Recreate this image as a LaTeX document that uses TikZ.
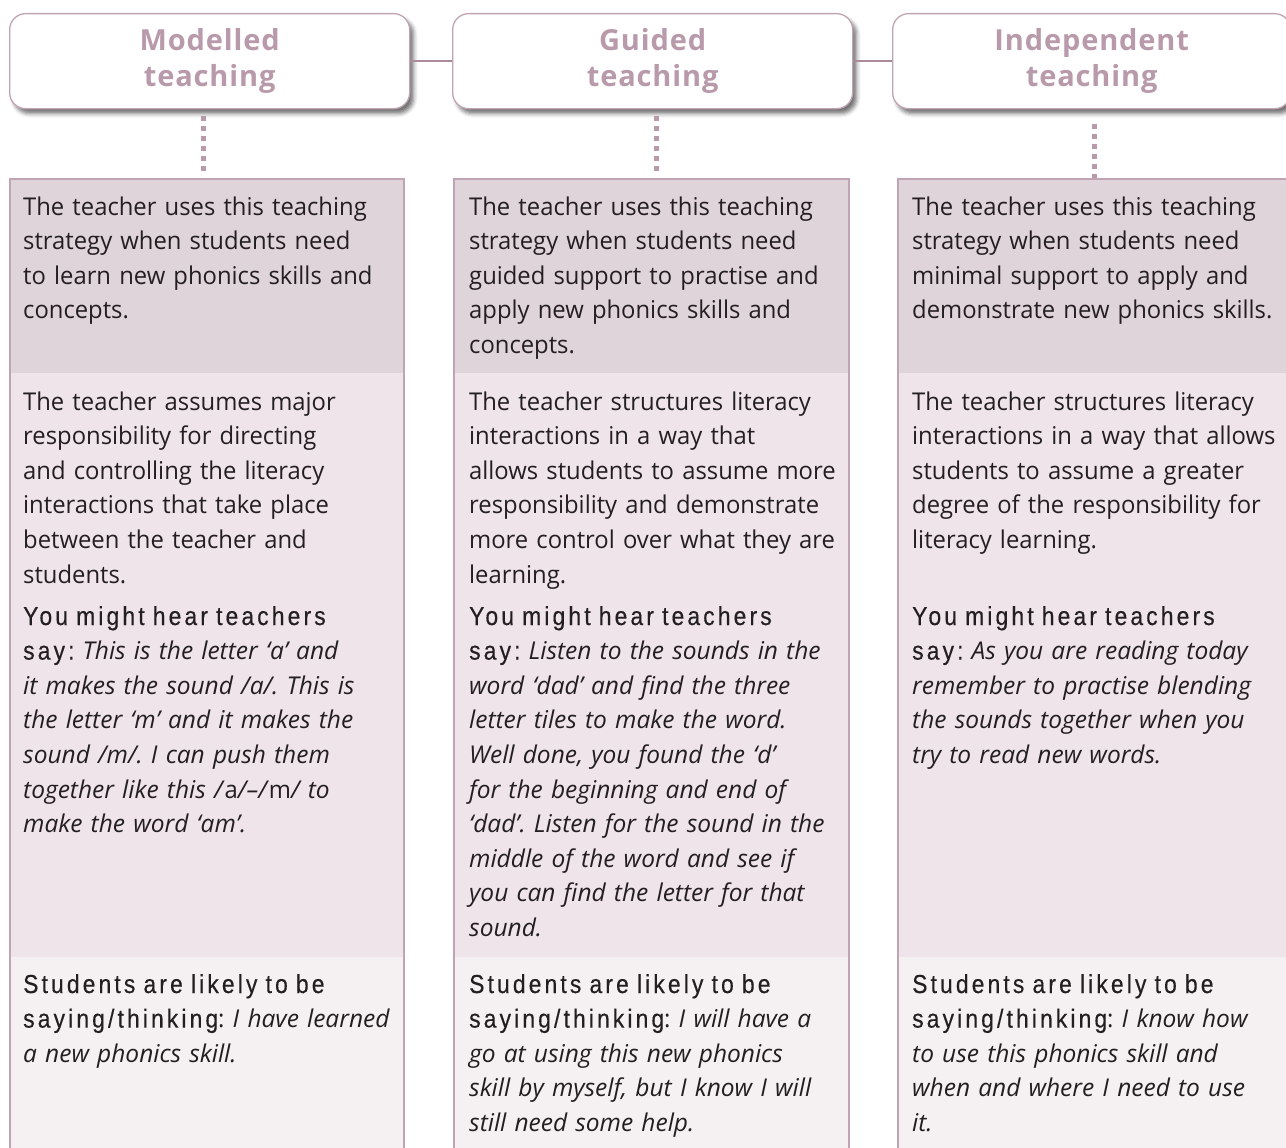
\documentclass[tikz,border=0pt]{standalone}
\usepackage{fontspec}
\setmainfont{Open Sans}[UprightFeatures={FakeStretch=0.972}]
\newfontfamily\hearfont[FakeStretch=0.88,LetterSpace=12,FakeBold=0.35]{Liberation Sans}
\newfontfamily\headfont[LetterSpace=3]{Open Sans}
\usetikzlibrary{shadows.blur}
\definecolor{txt}{HTML}{231F20}
\definecolor{headtxt}{HTML}{B99AAB}
\definecolor{border}{HTML}{C0A4B4}
\definecolor{lineC}{HTML}{A98B9B}
\definecolor{dotC}{HTML}{B89AAA}
\definecolor{bandA}{HTML}{E0D4DB}
\definecolor{bandB}{HTML}{EEE4EA}
\definecolor{bandC}{HTML}{F5F0F2}
\newcommand{\hr}[1]{{\hearfont\fontsize{26}{34.6}\selectfont #1}}
\begin{document}
\frenchspacing
\begin{tikzpicture}[x=1pt,y=-1pt,
  headbox/.style={draw=border, line width=1.3pt, fill=white, rounded corners=16pt,
    minimum width=400pt, minimum height=95pt, anchor=north west, inner sep=0pt,
    align=center, text=headtxt,
    font=\headfont\bfseries\fontsize{29}{36}\selectfont,
    blur shadow={shadow xshift=4pt, shadow yshift=-5pt, shadow blur radius=4pt, shadow opacity=55}},
  colbox/.style={draw=border, line width=2pt, anchor=north west, inner sep=0pt,
    minimum height=1000pt},
  bodytxt/.style={anchor=base west, inner sep=0pt, text width=400pt, align=left,
    text=txt, font=\frenchspacing\fontsize{24.5}{34.6}\selectfont},
  hline/.style={draw=lineC, line width=2.6pt},
  dotline/.style={draw=dotC, line width=4.5pt, dash pattern=on 4.5pt off 5.5pt}
]
\useasboundingbox (0,0) rectangle (1286,1148);

% bands
\fill[bandA] (9,178) rectangle (403,373);
\fill[bandB] (9,373) rectangle (403,957);
\fill[bandC] (9,957) rectangle (403,1180);
\fill[bandA] (453,178) rectangle (848,373);
\fill[bandB] (453,373) rectangle (848,957);
\fill[bandC] (453,957) rectangle (848,1180);
\fill[bandA] (897,178) rectangle (1292,373);
\fill[bandB] (897,373) rectangle (1292,957);
\fill[bandC] (897,957) rectangle (1292,1180);

% column frames
\node[colbox, minimum width=394pt] (c1) at (9,178) {};
\node[colbox, minimum width=395pt] (c2) at (453,178) {};
\node[colbox, minimum width=396pt] (c3) at (897,178) {};

% headers
\node[headbox] (h1) at (9,13) {Modelled\\teaching};
\node[headbox] (h2) at (452,13) {Guided\\teaching};
\node[headbox, minimum width=398pt] (h3) at (892,13) {Independent\\teaching};

% connectors
\draw[hline] (h1.east) -- (h2.west);
\draw[hline] (h2.east) -- (h3.west);
\draw[dotline] ([xshift=-6pt,yshift=-7pt]h1.south) -- ([xshift=-6pt,yshift=5pt]h1.south |- c1.north);
\draw[dotline] ([xshift=4pt,yshift=-7pt]h2.south) -- ([xshift=4pt,yshift=5pt]h2.south |- c2.north);
\draw[dotline] ([xshift=3pt,yshift=-15pt]h3.south) -- ([xshift=3pt,yshift=0pt]h3.south |- c3.north);

% column 1
\node[bodytxt] (a1) at (23,215) {The teacher uses this teaching\\strategy when students need\\to learn new phonics skills and\\concepts.};
\node[bodytxt] (a2) at (23,410) {The teacher assumes major\\responsibility for directing\\and controlling the literacy\\interactions that take place\\between the teacher and\\students.};
\node[bodytxt] (a3) at (23,625) {\hr{You might hear teachers}\\\hr{say:} \textit{This is the letter ‘a’ and}\\\textit{it makes the sound /a/. This is}\\\textit{the letter ‘m’ and it makes the}\\\textit{sound /m/. I can push them}\\\textit{together like this /\textup{a}/–/\textup{m}/ to}\\\textit{make the word ‘am’.}};
\node[bodytxt] (a4) at (23,993) {\hr{Students are likely to be}\\\hr{saying/thinking}: \textit{I have learned}\\\textit{a new phonics skill.}};

% column 2
\node[bodytxt] (b1) at (469,215) {The teacher uses this teaching\\strategy when students need\\guided support to practise and\\apply new phonics skills and\\concepts.};
\node[bodytxt] (b2) at (469,410) {The teacher structures literacy\\interactions in a way that\\allows students to assume more\\responsibility and demonstrate\\more control over what they are\\learning.};
\node[bodytxt] (b3) at (469,625) {\hr{You might hear teachers}\\\hr{say:} \textit{Listen to the sounds in the}\\\textit{word ‘dad’ and find the three}\\\textit{letter tiles to make the word.}\\\textit{Well done, you found the ‘d’}\\\textit{for the beginning and end of}\\\textit{‘dad’. Listen for the sound in the}\\\textit{middle of the word and see if}\\\textit{you can find the letter for that}\\\textit{sound.}};
\node[bodytxt] (b4) at (469,993) {\hr{Students are likely to be}\\\hr{saying/thinking}: \textit{I will have a}\\\textit{go at using this new phonics}\\\textit{skill by myself, but I know I will}\\\textit{still need some help.}};

% column 3
\node[bodytxt] (e1) at (912,215) {The teacher uses this teaching\\strategy when students need\\minimal support to apply and\\demonstrate new phonics skills.};
\node[bodytxt] (e2) at (912,410) {The teacher structures literacy\\interactions in a way that allows\\students to assume a greater\\degree of the responsibility for\\literacy learning.};
\node[bodytxt] (e3) at (912,625) {\hr{You might hear teachers}\\\hr{say:} \textit{As you are reading today}\\\textit{remember to practise blending}\\\textit{the sounds together when you}\\\textit{try to read new words.}};
\node[bodytxt] (e4) at (912,993) {\hr{Students are likely to be}\\\hr{saying/thinking}: \textit{I know how}\\\textit{to use this phonics skill and}\\\textit{when and where I need to use}\\\textit{it.}};
\end{tikzpicture}
\end{document}
